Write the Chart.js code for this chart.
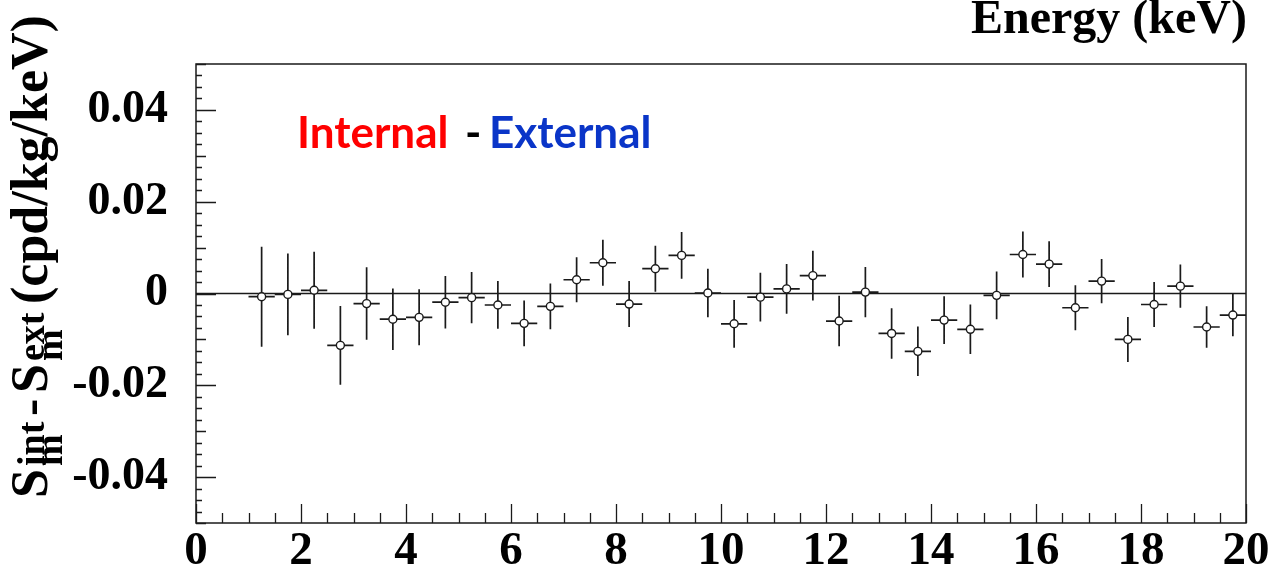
<!DOCTYPE html>
<html>
<head>
<meta charset="utf-8">
<script src="https://cdn.jsdelivr.net/npm/chart.js@4.4.1/dist/chart.umd.min.js"></script>
<style>
  html, body { margin: 0; padding: 0; background: #fff; }
  #wrap { width: 1272px; height: 574px; }
</style>
</head>
<body>
<div id="wrap"><canvas id="chart" width="1272" height="574"></canvas></div>
<script>
// Datos: centro del bin (keV), diferencia y error
const energy = [1.25, 1.75, 2.25, 2.75, 3.25, 3.75, 4.25, 4.75, 5.25, 5.75,
                6.25, 6.75, 7.25, 7.75, 8.25, 8.75, 9.25, 9.75, 10.25, 10.75,
                11.25, 11.75, 12.25, 12.75, 13.25, 13.75, 14.25, 14.75, 15.25, 15.75,
                16.25, 16.75, 17.25, 17.75, 18.25, 18.75, 19.25, 19.75];
const diffValues = [-0.0007, -0.0002, 0.0007, -0.0113, -0.0022, -0.0056, -0.0052, -0.0019, -0.0009, -0.0025,
                    -0.0065, -0.0028, 0.0030, 0.0067, -0.0023, 0.0054, 0.0083, 0.0001, -0.0066, -0.0008,
                    0.0010, 0.0039, -0.0060, 0.0003, -0.0087, -0.0126, -0.0058, -0.0078, -0.0004, 0.0085,
                    0.0064, -0.0031, 0.0027, -0.0100, -0.0024, 0.0016, -0.0073, -0.0047];
const diffErrors = [0.0109, 0.0089, 0.0084, 0.0086, 0.0079, 0.0067, 0.0061, 0.0057, 0.0056, 0.0052,
                    0.0050, 0.0050, 0.0049, 0.0050, 0.0050, 0.0050, 0.0051, 0.0053, 0.0052, 0.0053,
                    0.0054, 0.0054, 0.0055, 0.0055, 0.0055, 0.0054, 0.0052, 0.0054, 0.0052, 0.0050,
                    0.0050, 0.0049, 0.0048, 0.0049, 0.0049, 0.0047, 0.0045, 0.0046];
const binHalfWidth = 0.25;
const xTickLabels = [0, 2, 4, 6, 8, 10, 12, 14, 16, 18, 20];
const yTickLabels = [-0.04, -0.02, 0, 0.02, 0.04];

const serif = '"Liberation Serif", "Times New Roman", serif';
const ink = '#1a1a1a';

// Segmentos de barras de error (separados por null)
const vBars = energy.flatMap((e, i) => [
    { x: e, y: diffValues[i] - diffErrors[i] },
    { x: e, y: diffValues[i] + diffErrors[i] },
    { x: e, y: null }
]);
const hBars = energy.flatMap((e, i) => [
    { x: e - binHalfWidth, y: diffValues[i] },
    { x: e + binHalfWidth, y: diffValues[i] },
    { x: e, y: null }
]);
const points = energy.map((e, i) => ({ x: e, y: diffValues[i] }));

// Marco, marcas internas, línea cero y textos
const framePlugin = {
    id: 'frame',
    beforeDatasetsDraw(chart) {
        const { ctx, chartArea: a, scales: { y } } = chart;
        const y0 = y.getPixelForValue(0);
        ctx.save();
        ctx.strokeStyle = ink;
        ctx.lineWidth = 1.6;
        ctx.beginPath();
        ctx.moveTo(a.left, y0);
        ctx.lineTo(a.right, y0);
        ctx.stroke();
        ctx.restore();
    },
    afterDraw(chart) {
        const { ctx, chartArea: a, scales: { x, y } } = chart;
        ctx.save();
        ctx.strokeStyle = ink;
        ctx.lineWidth = 1.5;
        ctx.strokeRect(a.left, a.top, a.right - a.left, a.bottom - a.top);

        ctx.lineWidth = 1.3;
        ctx.beginPath();
        // eje Y: cada 0.0025, más largas cada 0.01 y 0.02
        for (let i = -20; i <= 20; i++) {
            const py = Math.round(y.getPixelForValue(i * 0.0025)) + 0.5;
            const len = i % 8 === 0 ? 20 : (i % 4 === 0 ? 10 : 6);
            ctx.moveTo(a.left, py);
            ctx.lineTo(a.left + len, py);
        }
        // eje X: cada 0.5 keV, más largas cada 2 keV
        for (let i = 0; i <= 40; i++) {
            const px = Math.round(x.getPixelForValue(i * 0.5)) + 0.5;
            const len = i % 4 === 0 ? 19 : 10;
            ctx.moveTo(px, a.bottom);
            ctx.lineTo(px, a.bottom - len);
        }
        ctx.stroke();

        // Título del eje X (arriba a la derecha)
        ctx.fillStyle = '#000';
        ctx.font = 'bold 48px ' + serif;
        ctx.textAlign = 'right';
        ctx.textBaseline = 'alphabetic';
        ctx.fillText('Energy (keV)', a.right + 1, 33);

        // Etiqueta Internal - External
        ctx.textAlign = 'left';
        ctx.font = 'bold 44px Lato, "Open Sans", sans-serif';
        ctx.fillStyle = '#ff0000';
        ctx.fillText('Internal', 297, 148);
        ctx.fillStyle = '#000';
        ctx.fillText('-', 465, 148);
        ctx.fillStyle = '#0a35c8';
        ctx.fillText('External', 489, 148);

        // Título del eje Y girado
        ctx.fillStyle = '#000';
        ctx.translate(47, 0);
        ctx.rotate(-Math.PI / 2);
        const pieces = [
            ['S', 52, 498, 0],
            ['m', 38, 466, 15],
            ['int', 38, 466, -3],
            ['-', 52, 416, 0],
            ['S', 52, 393, 0],
            ['m', 38, 361, 15],
            ['ext', 38, 361, -3],
            ['(cpd/kg/keV)', 52, 304, 0]
        ];
        pieces.forEach(([t, size, start, dy]) => {
            ctx.font = 'bold ' + size + 'px ' + serif;
            ctx.fillText(t, -start, dy);
        });
        ctx.restore();
    }
};

new Chart(document.getElementById('chart'), {
    type: 'scatter',
    data: {
        datasets: [
            {
                data: points,
                pointRadius: 4,
                pointBackgroundColor: '#fff',
                pointBorderColor: ink,
                pointBorderWidth: 1.4,
                order: 0
            },
            {
                data: vBars,
                showLine: true,
                spanGaps: false,
                borderColor: ink,
                borderWidth: 1.7,
                pointRadius: 0,
                order: 1
            },
            {
                data: hBars,
                showLine: true,
                spanGaps: false,
                borderColor: ink,
                borderWidth: 1.7,
                pointRadius: 0,
                order: 1
            }
        ]
    },
    options: {
        responsive: false,
        animation: false,
        devicePixelRatio: 1,
        layout: { padding: { top: 64, right: 26, left: 0, bottom: 0 } },
        plugins: { legend: { display: false }, tooltip: { enabled: false } },
        scales: {
            x: {
                type: 'linear',
                min: 0,
                max: 20,
                afterBuildTicks: s => { s.ticks = xTickLabels.map(v => ({ value: v })); },
                afterFit: s => {
                    s.height = 51;
                    s.paddingLeft = 0;
                    s.paddingRight = 0;
                    s.paddingTop = 0;
                    s.paddingBottom = 0;
                },
                grid: { display: false, drawTicks: false },
                border: { display: false },
                ticks: {
                    maxRotation: 0,
                    autoSkip: false,
                    padding: 1,
                    color: '#000',
                    font: { family: serif, size: 47, weight: 'bold' },
                    callback: v => String(v)
                }
            },
            y: {
                type: 'linear',
                min: -0.05,
                max: 0.05,
                afterBuildTicks: s => { s.ticks = yTickLabels.map(v => ({ value: v })); },
                afterFit: s => {
                    s.width = 196;
                    s.paddingTop = 0;
                    s.paddingBottom = 0;
                },
                grid: { display: false, drawTicks: false },
                border: { display: false },
                ticks: {
                    autoSkip: false,
                    padding: 28,
                    color: '#000',
                    font: { family: serif, size: 46, weight: 'bold' },
                    callback: v => (v === 0 ? '0' : v.toFixed(2))
                }
            }
        }
    },
    plugins: [framePlugin]
});
</script>
</body>
</html>
